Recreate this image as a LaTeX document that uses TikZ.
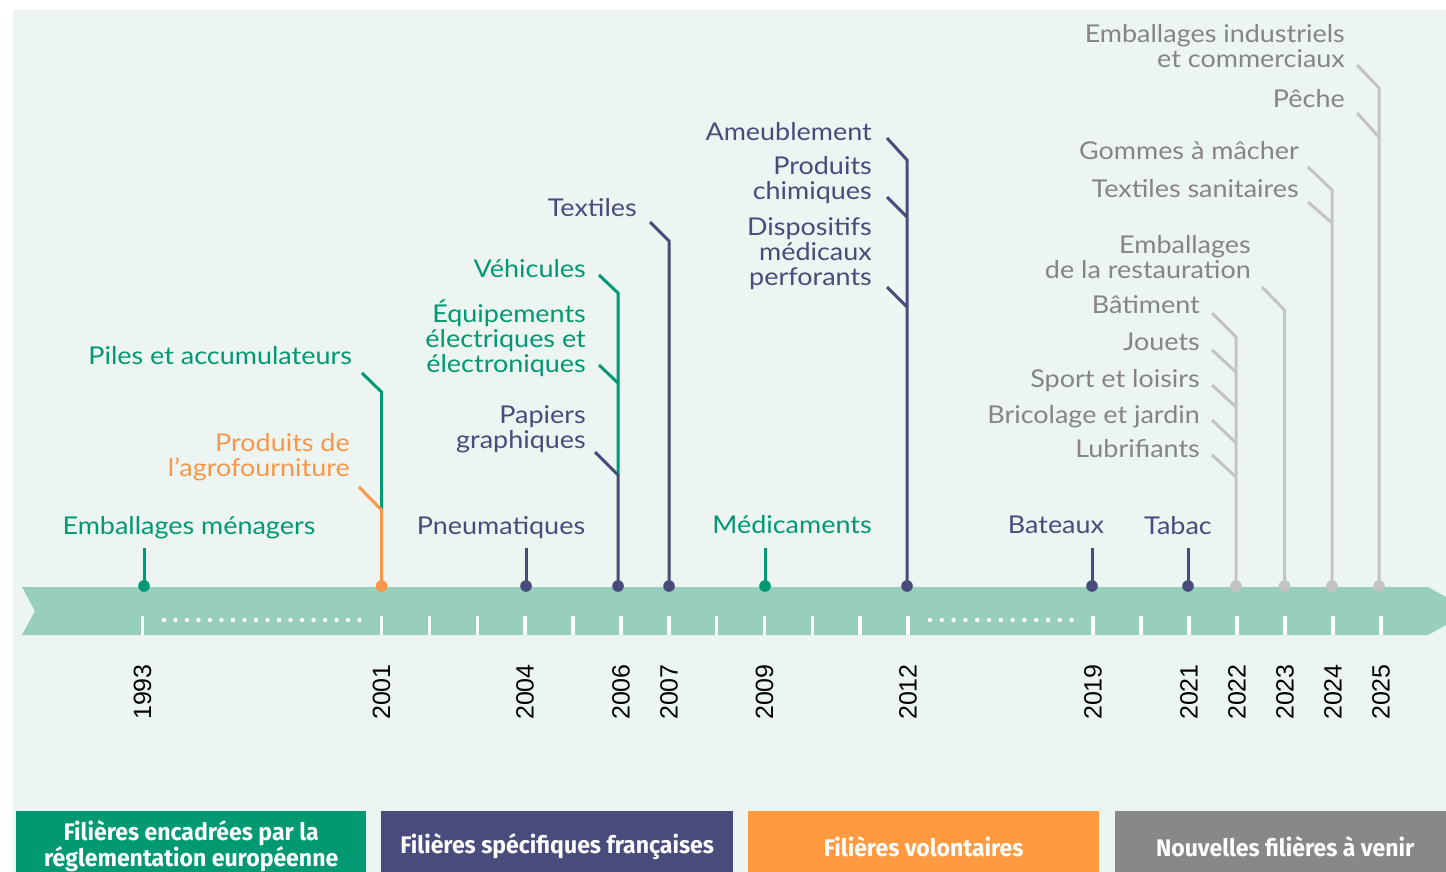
\documentclass[tikz,border=0pt]{standalone}
\usepackage{fontspec}
\setmainfont[FakeStretch=1.1]{Lato}
\newfontfamily\yearfont{Liberation Sans}
\newfontfamily\boxfont[FakeStretch=0.96]{Fira Sans}

\definecolor{bgmint}{RGB}{236,245,241}
\definecolor{band}{RGB}{151,206,188}
\definecolor{filgreen}{RGB}{0,153,113}
\definecolor{filnavy}{RGB}{72,75,124}
\definecolor{filorange}{RGB}{250,150,72}
\definecolor{boxorange}{RGB}{255,154,64}
\definecolor{filgray}{RGB}{133,133,133}
\definecolor{linegray}{RGB}{196,196,196}
\definecolor{boxgray}{RGB}{136,136,136}

\tikzset{
  lbl/.style={font=\fontsize{24.5}{25}\selectfont, inner sep=0pt, align=right},
  lead/.style={line width=3pt},
  yr/.style={font=\yearfont\fontsize{25}{25}\selectfont, rotate=90, inner sep=0pt},
  legendbox/.style={anchor=north west, minimum height=70pt, inner sep=0pt, text=white,
    font=\boxfont\bfseries\fontsize{24}{25}\selectfont, align=center}
}

\begin{document}
\begin{tikzpicture}[x=1pt,y=-1pt]
\useasboundingbox (0,0) rectangle (1446,872);
\fill[white] (0,0) rectangle (1446,872);
\fill[bgmint] (13,10) rectangle (1446,872);

% frise
\fill[band] (22,587) -- (1428,587) -- (1471,611) -- (1428,635) -- (22,635) -- (35,611) -- cycle;
\foreach \x in {142.5,381.5,429.5,477.5,525,573,621,669,716.5,764.5,812.5,860,908,1093,1141,1189,1237,1285,1333,1381}
  \draw[white, line width=3.5pt] (\x,616) -- (\x,635);
\foreach \i in {0,...,17}
  \fill[white] (164+11.5*\i,620) circle (2.2);
\foreach \i in {0,...,12}
  \fill[white] (930+11.8*\i,620) circle (2.2);

% annees
\foreach \x/\an in {142.5/1993,381.5/2001,525/2004,621/2006,669/2007,764.5/2009,908/2012,1093/2019,1189/2021,1237/2022,1285/2023,1333/2024,1381/2025}
  \node[yr] (y\an) at (\x,692) {\an};

% points sur la frise
\coordinate (d1993) at (144,586);
\coordinate (d2001) at (381.5,586);
\coordinate (d2004) at (526,586);
\coordinate (d2006) at (618,586);
\coordinate (d2007) at (669,586);
\coordinate (d2009) at (765,586);
\coordinate (d2012) at (907,586);
\coordinate (d2019) at (1092,586);
\coordinate (d2021) at (1188,586);
\coordinate (d2022) at (1236,586);
\coordinate (d2023) at (1284.5,586);
\coordinate (d2024) at (1332,586);
\coordinate (d2025) at (1379,586);

% etiquettes
\node[lbl, text=filgreen, anchor=base] (lEmbMen) at (189,534) {Emballages ménagers};
\node[lbl, text=filgreen, anchor=base east] (lPiles) at (352,364) {Piles et accumulateurs};
\node[lbl, text=filorange, anchor=base east] (lAgro) at (350,476) {Produits de\\l’agrofourniture};
\node[lbl, text=filnavy, anchor=base] (lPneu) at (501,534) {Pneumatiques};
\node[lbl, text=filgreen, anchor=base east] (lVeh) at (586,277) {Véhicules};
\node[lbl, text=filgreen, anchor=base east] (lEee) at (586,372) {Équipements\\électriques et\\électroniques};
\node[lbl, text=filnavy, anchor=base east] (lPap) at (586,448) {Papiers\\graphiques};
\node[lbl, text=filnavy, anchor=base east] (lTex) at (637,216) {Textiles};
\node[lbl, text=filnavy, anchor=base east] (lAme) at (872,141) {Ameublement};
\node[lbl, text=filnavy, anchor=base east] (lChi) at (872,200) {Produits\\chimiques};
\node[lbl, text=filnavy, anchor=base east] (lDis) at (872,285) {Dispositifs\\médicaux\\perforants};
\node[lbl, text=filgreen, anchor=base] (lMed) at (792,533) {Médicaments};
\node[lbl, text=filnavy, anchor=base] (lBat) at (1056,533) {Bateaux};
\node[lbl, text=filnavy, anchor=base] (lTab) at (1178,534) {Tabac};
\node[lbl, text=filgray, anchor=base east] (lInd) at (1345,68) {Emballages industriels\\et commerciaux};
\node[lbl, text=filgray, anchor=base east] (lPec) at (1345,108) {Pêche};
\node[lbl, text=filgray, anchor=base east] (lGom) at (1299,160) {Gommes à mâcher};
\node[lbl, text=filgray, anchor=base east] (lTsa) at (1299,197) {Textiles sanitaires};
\node[lbl, text=filgray, anchor=base east] (lRes) at (1251,278) {Emballages\\de la restauration};
\node[lbl, text=filgray, anchor=base east] (lBatim) at (1200,313) {Bâtiment};
\node[lbl, text=filgray, anchor=base east] (lJou) at (1200,350) {Jouets};
\node[lbl, text=filgray, anchor=base east] (lSpo) at (1200,387) {Sport et loisirs};
\node[lbl, text=filgray, anchor=base east] (lBri) at (1200,423) {Bricolage et jardin};
\node[lbl, text=filgray, anchor=base east] (lLub) at (1200,457) {Lubrifiants};

% traits simples
\coordinate (t1993) at (144,548);
\coordinate (t2004) at (526,548);
\coordinate (t2009) at (765,548);
\coordinate (t2019) at (1092,548);
\coordinate (t2021) at (1188,548);
\draw[lead, filgreen] (t1993) -- (d1993);
\draw[lead, filnavy] (t2004) -- (d2004);
\draw[lead, filgreen] (t2009) -- (d2009);
\draw[lead, filnavy] (t2019) -- (d2019);
\draw[lead, filnavy] (t2021) -- (d2021);

% 2001
\coordinate (sPiles) at (362,373);
\coordinate (jPiles) at (381.5,392);
\coordinate (sAgro) at (359,487);
\coordinate (jAgro) at (381.5,510);
\draw[lead, filgreen] (sPiles) -- (jPiles) -- (jAgro);
\draw[lead, filorange] (sAgro) -- (jAgro) -- (d2001);

% 2006 et 2007
\coordinate (sVeh) at (599,275);
\coordinate (jVeh) at (618,293);
\coordinate (sEee) at (599,365);
\coordinate (jEee) at (618,383);
\coordinate (sPap) at (595,452);
\coordinate (jPap) at (618,475);
\draw[lead, filgreen] (sVeh) -- (jVeh) -- (jPap);
\draw[lead, filgreen] (sEee) -- (jEee);
\draw[lead, filnavy] (sPap) -- (jPap) -- (d2006);
\coordinate (sTex) at (650,222);
\coordinate (jTex) at (669,241);
\draw[lead, filnavy] (sTex) -- (jTex) -- (d2007);

% 2012
\coordinate (sAme) at (887,138);
\coordinate (jAme) at (907,160);
\coordinate (sChi) at (887,197);
\coordinate (jChi) at (907,217);
\coordinate (sDis) at (887,287);
\coordinate (jDis) at (907,307);
\draw[lead, filnavy] (sAme) -- (jAme) -- (d2012);
\draw[lead, filnavy] (sChi) -- (jChi);
\draw[lead, filnavy] (sDis) -- (jDis);

% 2022 a 2025
\coordinate (sBatim) at (1212,313);
\coordinate (jBatim) at (1236,337);
\coordinate (sJou) at (1212,350);
\coordinate (jJou) at (1236,372);
\coordinate (sSpo) at (1212,385);
\coordinate (jSpo) at (1236,407);
\coordinate (sBri) at (1212,420);
\coordinate (jBri) at (1236,443);
\coordinate (sLub) at (1212,455);
\coordinate (jLub) at (1236,477);
\draw[lead, linegray] (sBatim) -- (jBatim) -- (d2022);
\draw[lead, linegray] (sJou) -- (jJou);
\draw[lead, linegray] (sSpo) -- (jSpo);
\draw[lead, linegray] (sBri) -- (jBri);
\draw[lead, linegray] (sLub) -- (jLub);
\coordinate (sRes) at (1262,287);
\coordinate (jRes) at (1284.5,310);
\draw[lead, linegray] (sRes) -- (jRes) -- (d2023);
\coordinate (sGom) at (1308,167);
\coordinate (jGom) at (1332,190);
\coordinate (sTsa) at (1308,202);
\coordinate (jTsa) at (1332,223);
\draw[lead, linegray] (sGom) -- (jGom) -- (d2024);
\draw[lead, linegray] (sTsa) -- (jTsa);
\coordinate (sInd) at (1357,65);
\coordinate (jInd) at (1379,88);
\coordinate (sPec) at (1357,113);
\coordinate (jPec) at (1379,137);
\draw[lead, linegray] (sInd) -- (jInd) -- (d2025);
\draw[lead, linegray] (sPec) -- (jPec);

% pastilles
\fill[filgreen] (d1993) circle (5.8);
\fill[filorange] (d2001) circle (5.8);
\fill[filnavy] (d2004) circle (5.8);
\fill[filnavy] (d2006) circle (5.8);
\fill[filnavy] (d2007) circle (5.8);
\fill[filgreen] (d2009) circle (5.8);
\fill[filnavy] (d2012) circle (5.8);
\fill[filnavy] (d2019) circle (5.8);
\fill[filnavy] (d2021) circle (5.8);
\fill[linegray] (d2022) circle (5.8);
\fill[linegray] (d2023) circle (5.8);
\fill[linegray] (d2024) circle (5.8);
\fill[linegray] (d2025) circle (5.8);

% legende
\node[legendbox, fill=filgreen, minimum width=350pt] (kEurope) at (16,811) {Filières encadrées par la\\réglementation européenne};
\node[legendbox, fill=filnavy, minimum width=352pt] (kFrance) at (381,811) {Filières spécifiques françaises};
\node[legendbox, fill=boxorange, minimum width=351pt] (kVolont) at (748,811) {Filières volontaires};
\node[legendbox, fill=boxgray, minimum width=340pt] (kAvenir) at (1115,811) {Nouvelles filières à venir};
\end{tikzpicture}
\end{document}
